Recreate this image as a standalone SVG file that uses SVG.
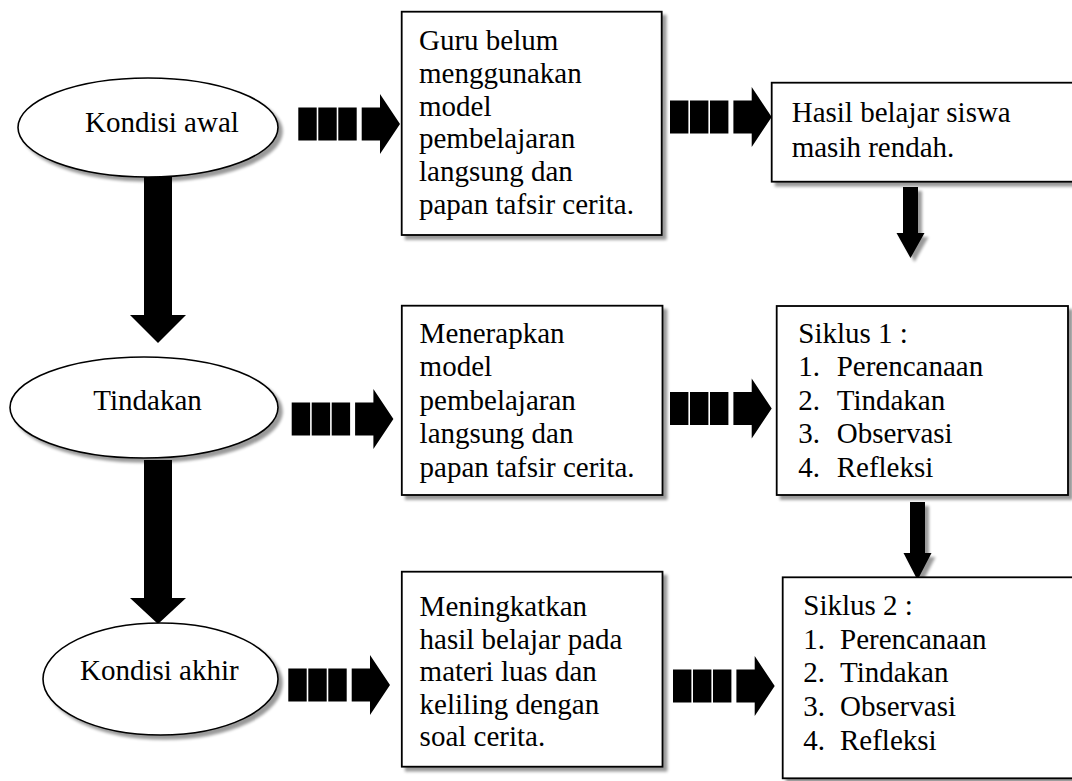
<svg xmlns="http://www.w3.org/2000/svg" width="1072" height="781" viewBox="0 0 1072 781">
<style>
.box{fill:#fff;stroke:#000;stroke-width:1.8}
.ell{fill:#fff;stroke:#000;stroke-width:1.6}
.t{font-family:"Liberation Serif","Times New Roman",serif;font-size:29px;fill:#000}
.blk{fill:#000}
</style>
<defs>
<filter id="sh" x="-10%" y="-10%" width="130%" height="130%">
<feGaussianBlur in="SourceAlpha" stdDeviation="1.5"/>
<feOffset dx="4" dy="4" result="o"/>
<feComponentTransfer><feFuncA type="linear" slope="0.4"/></feComponentTransfer>
<feMerge><feMergeNode/><feMergeNode in="SourceGraphic"/></feMerge>
</filter>
<g id="darr">
<rect class="blk" x="0" y="-16.5" width="18.4" height="33"/>
<rect class="blk" x="20" y="-16.5" width="18.4" height="33"/>
<rect class="blk" x="40" y="-16.5" width="18.4" height="33"/>
<polygon class="blk" points="63.4,-16.5 81.7,-16.5 81.7,-30 101.7,0 81.7,30 81.7,16.5 63.4,16.5"/>
</g>
</defs>
<rect width="1072" height="781" fill="#fff"/>

<g id="connectors">
<use href="#darr" x="298.3" y="124"/>
<use href="#darr" x="670" y="117"/>
<use href="#darr" x="291.7" y="419"/>
<use href="#darr" x="670" y="408.5"/>
<use href="#darr" x="288.3" y="685"/>
<use href="#darr" x="673" y="686"/>
<polygon class="blk" points="144,177 172,177 172,315 186,315 158,343 130,315 144,315"/>
<polygon class="blk" points="144,460 172,460 172,598 186,598 158,624 130,598 144,598"/>
<polygon class="blk" filter="url(#sh)" points="903,187 918,187 918,233 924.5,233 910.5,258 896.5,233 903,233"/>
<polygon class="blk" filter="url(#sh)" points="910,502 925,502 925,553 931.5,553 917.5,580 903.5,553 910,553"/>
</g>

<g id="kondisi-awal">
<ellipse class="ell" filter="url(#sh)" cx="148" cy="127.5" rx="130" ry="49.5"/>
<text class="t" x="85" y="132">Kondisi awal</text>
</g>
<g id="tindakan">
<ellipse class="ell" filter="url(#sh)" cx="144" cy="407.5" rx="134" ry="50.5"/>
<text class="t" x="93.3" y="410">Tindakan</text>
</g>
<g id="kondisi-akhir">
<ellipse class="ell" filter="url(#sh)" cx="160.5" cy="679" rx="117.5" ry="56"/>
<text class="t" x="80" y="679.5">Kondisi akhir</text>
</g>

<g id="guru-belum">
<rect class="box" filter="url(#sh)" x="401.7" y="11.7" width="260" height="223.3"/>
<text class="t" x="419" y="50">Guru belum</text>
<text class="t" x="419" y="82.8">menggunakan</text>
<text class="t" x="419" y="115.6">model</text>
<text class="t" x="419" y="148.4">pembelajaran</text>
<text class="t" x="419" y="181.2">langsung dan</text>
<text class="t" x="419" y="214">papan tafsir cerita.</text>
</g>
<g id="hasil-rendah">
<rect class="box" filter="url(#sh)" x="771.7" y="82.7" width="310" height="99"/>
<text class="t" x="791.7" y="121.7">Hasil belajar siswa</text>
<text class="t" x="791.7" y="156.7">masih rendah.</text>
</g>
<g id="menerapkan">
<rect class="box" filter="url(#sh)" x="401.8" y="305.7" width="260.7" height="189.3"/>
<text class="t" x="419.6" y="343">Menerapkan</text>
<text class="t" x="419.6" y="376.4">model</text>
<text class="t" x="419.6" y="409.8">pembelajaran</text>
<text class="t" x="419.6" y="443.2">langsung dan</text>
<text class="t" x="419.6" y="476.6">papan tafsir cerita.</text>
</g>
<g id="siklus-1">
<rect class="box" filter="url(#sh)" x="776.7" y="306" width="291.3" height="189"/>
<text class="t" x="798.3" y="343">Siklus 1 :</text>
<text class="t" x="798.3" y="376.4">1.</text><text class="t" x="836.7" y="376.4">Perencanaan</text>
<text class="t" x="798.3" y="409.8">2.</text><text class="t" x="836.7" y="409.8">Tindakan</text>
<text class="t" x="798.3" y="443.2">3.</text><text class="t" x="836.7" y="443.2">Observasi</text>
<text class="t" x="798.3" y="476.6">4.</text><text class="t" x="836.7" y="476.6">Refleksi</text>
</g>
<g id="meningkatkan">
<rect class="box" filter="url(#sh)" x="401.8" y="571.7" width="260.7" height="195"/>
<text class="t" x="419.6" y="616">Meningkatkan</text>
<text class="t" x="419.6" y="648.5">hasil belajar pada</text>
<text class="t" x="419.6" y="681">materi luas dan</text>
<text class="t" x="419.6" y="713.5">keliling dengan</text>
<text class="t" x="419.6" y="746">soal cerita.</text>
</g>
<g id="siklus-2">
<rect class="box" filter="url(#sh)" x="782.7" y="577.3" width="300" height="201"/>
<text class="t" x="803.3" y="615">Siklus 2 :</text>
<text class="t" x="803.3" y="648.7">1.</text><text class="t" x="840" y="648.7">Perencanaan</text>
<text class="t" x="803.3" y="682.4">2.</text><text class="t" x="840" y="682.4">Tindakan</text>
<text class="t" x="803.3" y="716">3.</text><text class="t" x="840" y="716">Observasi</text>
<text class="t" x="803.3" y="749.7">4.</text><text class="t" x="840" y="749.7">Refleksi</text>
</g>
</svg>
